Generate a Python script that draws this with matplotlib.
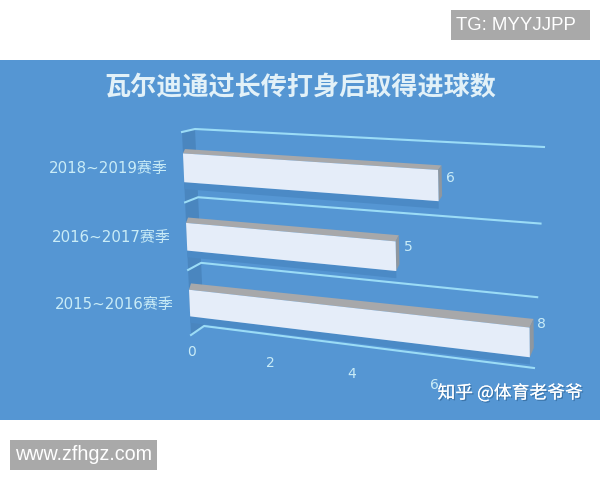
import numpy as np
import matplotlib
matplotlib.use("Agg")
import matplotlib.pyplot as plt
import matplotlib.patheffects as pe

plt.rcParams['font.family'] = ['Noto Sans CJK SC', 'DejaVu Sans']

# data, top row first
seasons = ['2018~2019赛季', '2016~2017赛季', '2015~2016赛季']
goals = [6, 5, 8]
ticks = [0, 2, 4, 6]
vmax = 8
title = '瓦尔迪通过长传打身后取得进球数'

# the 3d look: planes given as pixel corners (v=0,r=0), (v=max,r=0), (v=0,r=3), (v=max,r=3)
front = [(191, 335), (530, 378), (182, 132), (528, 152)]
bar_back = [(193, 328), (534, 368), (184, 128), (532, 148)]
wall = [(204, 326), (534, 368), (195, 129), (544, 147)]
tick_line = [(192, 352), (520, 397), (192, 352), (520, 397)]
k = 1.06

BG = '#5596d3'
WALL_SIDE = '#4a86bf'
SHADOW = '#4b8ac6'
FACE = '#e5edf9'
TOP = '#a7a8aa'
SIDE = '#8f979f'
GRID = '#9bdcf6'
TXT = '#c9ecf7'
LATIN = ['DejaVu Sans', 'Noto Sans CJK SC']

# nudges for the value labels next to the bars
label_dy = [-8, -9, -18]


def persp(t):
    return t / (t + k * (1 - t))


def project(plane, v, r):
    a = persp(v / vmax)
    b = persp(r / 3)
    p = np.array(plane, dtype=float)
    low = p[0] + (p[1] - p[0]) * a
    high = p[2] + (p[3] - p[2]) * a
    return low + (high - low) * b


def quad(ax, pts, color, z):
    pts = np.array(pts)
    ax.fill(pts[:, 0], pts[:, 1], color=color, lw=0, zorder=z)


fig = plt.figure(figsize=(6, 4.8), dpi=100)
ax = fig.add_axes([0, 0, 1, 1])
ax.set_xlim(0, 600)
ax.set_ylim(480, 0)
ax.axis('off')

# panel and the two grey stamps
ax.fill([0, 600, 600, 0], [60, 60, 420, 420], color=BG, lw=0, zorder=0)
ax.fill([451, 590, 590, 451], [10, 10, 40, 40], color='#a9a9a9', lw=0, zorder=0)
ax.fill([10, 157, 157, 10], [440, 440, 470, 470], color='#a9a9a9', lw=0, zorder=0)
ax.text(516, 25.5, 'TG: MYYJJPP', color='white', fontsize=13.4, ha='center', va='center',
        family='Liberation Sans')
ax.text(83.5, 455, 'www.zfhgz.com', color='white', fontsize=14.2, ha='center', va='center',
        family='Liberation Sans')

ax.text(300, 88, title, color='#e2f1f8', fontsize=18.8, ha='center', va='center', weight='bold')

# left wall
quad(ax, [project(front, 0, 0), project(wall, 0, 0), project(wall, 0, 3), project(front, 0, 3)],
     WALL_SIDE, 1)

# grid lines
for r in range(4):
    pts = np.array([project(front, 0, r), project(wall, 0, r), project(wall, vmax, r)])
    ax.plot(pts[:, 0], pts[:, 1], color=GRID, lw=1.5, zorder=2)

# bars
for i, (name, val) in enumerate(zip(seasons, goals)):
    row = 2 - i
    lo = row + 0.29
    hi = row + 0.70
    quad(ax, [project(front, 0, lo), project(front, val, lo),
              project(front, val, lo - 0.1), project(front, 0, lo - 0.1)], SHADOW, 3)
    quad(ax, [project(front, 0, hi), project(front, val, hi),
              project(bar_back, val, hi), project(bar_back, 0, hi)], TOP, 4)
    quad(ax, [project(front, val, lo), project(front, val, hi),
              project(bar_back, val, hi), project(bar_back, val, lo)], SIDE, 4)
    quad(ax, [project(front, 0, lo), project(front, val, lo),
              project(front, val, hi), project(front, 0, hi)], FACE, 5)
    end = project(front, val, (lo + hi) / 2)
    ax.text(end[0] + 12, end[1] + label_dy[i], str(val), color=TXT, fontsize=10,
            ha='center', va='center', zorder=6, family=LATIN)
    start = project(front, 0, (lo + hi) / 2)
    ax.text(start[0] - 16, start[1] + 1, name, color=TXT, fontsize=10.8, ha='right', va='center',
            zorder=6, family=LATIN)

# value axis labels
for t in ticks:
    p = project(tick_line, t, 0)
    ax.text(p[0], p[1], str(t), color=TXT, fontsize=10, ha='center', va='center', zorder=6,
            family=LATIN)

# watermark
ax.text(510, 393, '知乎 @体育老爷爷', color='white', fontsize=12.8, ha='center', va='center', zorder=7,
        path_effects=[pe.withSimplePatchShadow(offset=(1, -1), shadow_rgbFace='#2c5f8f', alpha=0.6),
                      pe.Normal()])

fig.savefig('out.png', dpi=100)
